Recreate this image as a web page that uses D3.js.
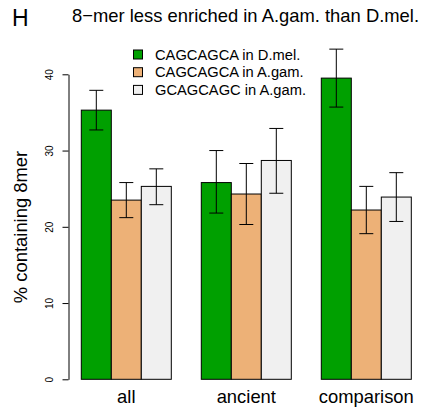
<!DOCTYPE html>
<html>
<head>
<meta charset="utf-8">
<script src="https://cdn.jsdelivr.net/npm/d3@7"></script>
<style>
  body { margin: 0; background: #fff; }
  text { font-family: "Liberation Sans", Arial, sans-serif; }
</style>
</head>
<body>
<script>
// data
var categories = ['all', 'ancient', 'comparison'];
var series = ['CAGCAGCA in D.mel.', 'CAGCAGCA in A.gam.', 'GCAGCAGC in A.gam.'];
var colors = ['#00a000', '#edb177', '#f0f0f0'];
var values = [
  [35.3, 25.8, 39.5],   // CAGCAGCA in D.mel.
  [23.5, 24.3, 22.2],   // CAGCAGCA in A.gam.
  [25.3, 28.7, 23.9]    // GCAGCAGC in A.gam.
];
var upper = [
  [37.9, 30.0, 43.3],
  [25.8, 28.3, 25.3],
  [27.6, 32.9, 27.1]
];
var lower = [
  [32.7, 21.8, 35.7],
  [21.2, 20.3, 19.1],
  [22.9, 24.4, 20.7]
];
var yTicks = [0, 10, 20, 30, 40];

var W = 433, H = 410;
var svg = d3.select('body').append('svg')
    .attr('width', W)
    .attr('height', H);

// scales
var y = d3.scaleLinear().domain([0, 40]).range([379.3, 74.3]);
var x0 = d3.scaleBand().domain(categories).range([81.3, 411.3])
    .paddingInner(0.25).paddingOuter(0);
var x1 = d3.scaleBand().domain(d3.range(series.length)).range([0, x0.bandwidth()]);

// y axis
var yAxis = svg.append('g')
    .attr('transform', 'translate(68.5,0)')
    .call(d3.axisLeft(y).tickValues(yTicks).tickSize(6).tickSizeOuter(0).tickFormat(d3.format('d')));
yAxis.select('.domain').attr('stroke', '#000');
yAxis.selectAll('.tick line').attr('stroke', '#000');
yAxis.selectAll('.tick text')
    .attr('x', 0).attr('y', 0).attr('dy', null)
    .attr('text-anchor', 'middle')
    .attr('transform', 'translate(-15.5,0) rotate(-90)')
    .attr('fill', '#000')
    .style('font-size', '10px')
    .style('font-family', '"Liberation Sans", Arial, sans-serif');

// bars
var groups = svg.append('g').selectAll('g')
    .data(categories)
    .enter().append('g')
    .attr('transform', function(d) { return 'translate(' + x0(d) + ',0)'; });

series.forEach(function(s, si) {
  groups.append('rect')
    .attr('x', x1(si))
    .attr('y', function(d, ci) { return y(values[si][ci]); })
    .attr('width', x1.bandwidth())
    .attr('height', function(d, ci) { return y(0) - y(values[si][ci]); })
    .attr('fill', colors[si])
    .attr('stroke', '#000')
    .attr('stroke-width', 1);
});

// error bars
series.forEach(function(s, si) {
  var cx = x1(si) + x1.bandwidth() / 2;
  groups.append('line')
    .attr('x1', cx).attr('x2', cx)
    .attr('y1', function(d, ci) { return y(lower[si][ci]); })
    .attr('y2', function(d, ci) { return y(upper[si][ci]); })
    .attr('stroke', '#000');
  [upper, lower].forEach(function(arr) {
    groups.append('line')
      .attr('x1', cx - 7).attr('x2', cx + 7)
      .attr('y1', function(d, ci) { return y(arr[si][ci]); })
      .attr('y2', function(d, ci) { return y(arr[si][ci]); })
      .attr('stroke', '#000');
  });
});

// category labels
svg.append('g').selectAll('text')
    .data(categories)
    .enter().append('text')
    .attr('x', function(d) { return x0(d) + x0.bandwidth() / 2; })
    .attr('y', 403)
    .attr('text-anchor', 'middle')
    .style('font-size', '18.4px')
    .text(function(d) { return d; });

// y label
svg.append('text')
    .attr('transform', 'translate(26.5,227) rotate(-90)')
    .attr('text-anchor', 'middle')
    .style('font-size', '18.4px')
    .text('% containing 8mer');

// title and panel letter
svg.append('text')
    .attr('x', 12).attr('y', 26)
    .style('font-size', '23px')
    .text('H');
svg.append('text')
    .attr('x', 72).attr('y', 22)
    .style('font-size', '18.4px')
    .text('8\u2212mer less enriched in A.gam. than D.mel.');

// legend
var legend = svg.append('g').selectAll('g')
    .data(series)
    .enter().append('g')
    .attr('transform', function(d, i) { return 'translate(133,' + (54 + i * 17.7) + ')'; });
legend.append('rect')
    .attr('x', 0.5).attr('y', -4)
    .attr('width', 9).attr('height', 9)
    .attr('fill', function(d, i) { return colors[i]; })
    .attr('stroke', '#000');
legend.append('text')
    .attr('x', 22).attr('y', 5.5)
    .style('font-size', '14.7px')
    .text(function(d) { return d; });
</script>
</body>
</html>
